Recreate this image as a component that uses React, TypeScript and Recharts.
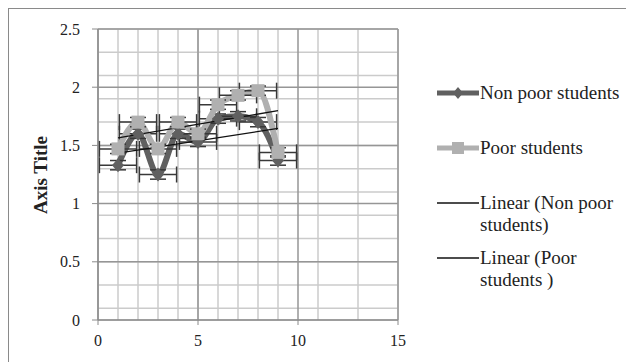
import React from 'react'
import {
  ComposedChart, Line, Scatter, XAxis, YAxis, CartesianGrid, ErrorBar,
} from 'recharts'

// survey rounds on the x axis
const rounds = [1, 2, 3, 4, 5, 6, 7, 8, 9]
const nonPoor = [1.33, 1.6, 1.25, 1.6, 1.53, 1.73, 1.75, 1.7, 1.37]
const poor = [1.47, 1.7, 1.47, 1.7, 1.6, 1.85, 1.93, 1.97, 1.44]
const xErr = 0.93
const yErr = 0.04

const xTicks = [0, 5, 10, 15]
const yTicks = [0, 0.5, 1, 1.5, 2, 2.5]
const xMinor = Array.from({ length: 16 }, (_, i) => i)
const yMinor = Array.from({ length: 26 }, (_, i) => Math.round(i * 10) / 100)

const C = {
  dark: '#606060', light: '#b0b0b0', err: '#383838', trend: '#111',
  minor: '#cbcbcb', major: '#969696', axis: '#8a8a8a', ink: '#222',
}
const FONT = '"Liberation Serif", "Times New Roman", serif'

const toPoints = (ys: number[]) => rounds.map((x, i) => ({ x, y: ys[i], ex: xErr, ey: yErr }))

// least-squares trendline, same as Excel's "Linear" trendline
function trend(ys: number[]) {
  const n = rounds.length
  const mx = rounds.reduce((s, v) => s + v, 0) / n
  const my = ys.reduce((s, v) => s + v, 0) / n
  let num = 0, den = 0
  rounds.forEach((x, i) => { num += (x - mx) * (ys[i] - my); den += (x - mx) ** 2 })
  const b = num / den, a = my - b * mx
  const x0 = rounds[0], x1 = rounds[n - 1]
  return [{ x: x0, y: a + b * x0 }, { x: x1, y: a + b * x1 }]
}

const Diamond = (p: any) => (
  <polygon points={`${p.cx},${p.cy - 7} ${p.cx + 6},${p.cy} ${p.cx},${p.cy + 7} ${p.cx - 6},${p.cy}`} fill={C.dark} />
)
const Square = (p: any) => <rect x={p.cx - 6.5} y={p.cy - 6.5} width={13} height={13} fill={C.light} />

const legendRows = [
  { top: 72.7, label: ['Non poor students'], kind: 'dark' },
  { top: 128, label: ['Poor students'], kind: 'light' },
  { top: 183, label: ['Linear (Non poor', 'students)'], kind: 'trend' },
  { top: 238, label: ['Linear (Poor', 'students )'], kind: 'trend' },
]

function Swatch({ kind }: { kind: string }) {
  return (
    <svg width={42} height={22} style={{ position: 'absolute', left: 0, top: 0 }}>
      {kind === 'trend' && <line x1={0} x2={42} y1={11} y2={11} stroke={C.trend} strokeWidth={1.3} />}
      {kind === 'dark' && <>
        <line x1={0} x2={42} y1={11} y2={11} stroke={C.dark} strokeWidth={5} />
        <polygon points="21,5 26,11 21,17 16,11" fill={C.dark} />
      </>}
      {kind === 'light' && <>
        <line x1={0} x2={42} y1={11} y2={11} stroke={C.light} strokeWidth={5} />
        <rect x={15} y={5} width={12} height={12} fill={C.light} />
      </>}
    </svg>
  )
}

export default function App() {
  const np = toPoints(nonPoor)
  const pp = toPoints(poor)
  return (
    <div style={{ position: 'relative', width: 622, height: 360, border: '1px solid #8a8a8a', background: '#fff', fontFamily: FONT, color: C.ink }}>
      <div style={{ position: 'absolute', left: 0, top: 0 }}>
        <ComposedChart width={420} height={350} margin={{ top: 20, right: 31, bottom: 9, left: 0 }}>
          <CartesianGrid stroke={C.minor} strokeWidth={1.5} verticalValues={xMinor} horizontalValues={yMinor} />
          <CartesianGrid stroke={C.major} strokeWidth={1.5} verticalValues={xTicks} horizontalValues={yTicks} />
          <XAxis type="number" dataKey="x" domain={[0, 15]} ticks={xTicks} height={30}
            stroke={C.axis} tickSize={5} tickMargin={10}
            tick={{ fontSize: 16, fill: C.ink, fontFamily: FONT }} />
          <YAxis type="number" dataKey="y" domain={[0, 2.5]} ticks={yTicks} width={89}
            stroke={C.axis} tickSize={6} tickMargin={12}
            tick={{ fontSize: 16, fill: C.ink, fontFamily: FONT }} />
          <Line data={np} dataKey="y" type="monotone" stroke={C.dark} strokeWidth={6} dot={false} isAnimationActive={false} />
          <Scatter data={np} dataKey="y" shape={Diamond} isAnimationActive={false}>
            <ErrorBar dataKey="ex" direction="x" width={8} stroke={C.err} strokeWidth={1.5} />
            <ErrorBar dataKey="ey" direction="y" width={8} stroke={C.err} strokeWidth={1.5} />
          </Scatter>
          <Line data={pp} dataKey="y" type="monotone" stroke={C.light} strokeWidth={6} dot={false} isAnimationActive={false} />
          <Scatter data={pp} dataKey="y" shape={Square} isAnimationActive={false}>
            <ErrorBar dataKey="ex" direction="x" width={8} stroke={C.err} strokeWidth={1.5} />
            <ErrorBar dataKey="ey" direction="y" width={8} stroke={C.err} strokeWidth={1.5} />
          </Scatter>
          <Line data={trend(nonPoor)} dataKey="y" type="linear" stroke={C.trend} strokeWidth={1.3} dot={false} isAnimationActive={false} />
          <Line data={trend(poor)} dataKey="y" type="linear" stroke={C.trend} strokeWidth={1.3} dot={false} isAnimationActive={false} />
        </ComposedChart>
      </div>

      <div style={{ position: 'absolute', left: 32, top: 166, transform: 'translate(-50%, -50%) rotate(-90deg)', fontWeight: 700, fontSize: 19, whiteSpace: 'nowrap' }}>
        Axis Title
      </div>

      {legendRows.map(r => (
        <div key={r.label[0]} style={{ position: 'absolute', left: 428, top: r.top }}>
          <Swatch kind={r.kind} />
          <div style={{ marginLeft: 43, fontSize: 19, lineHeight: '22px', whiteSpace: 'nowrap' }}>
            {r.label.map((l, i) => <div key={i}>{l}</div>)}
          </div>
        </div>
      ))}
    </div>
  )
}
